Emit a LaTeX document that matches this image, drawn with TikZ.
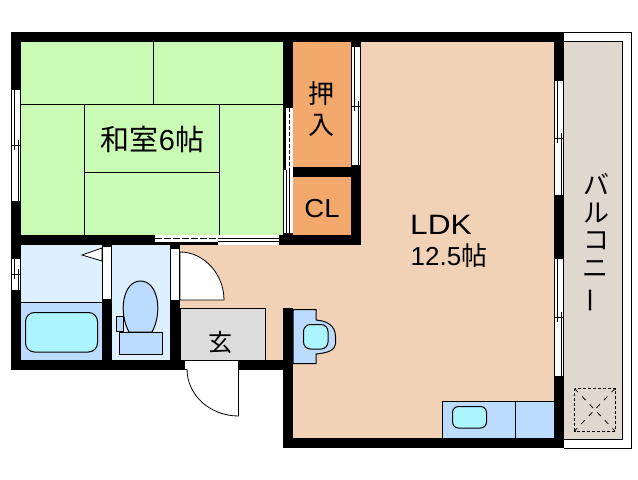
\documentclass[tikz,border=0pt]{standalone}
\usepackage{fontspec}
\setmainfont{Liberation Sans}
\newfontfamily\cjk{Noto Sans CJK JP}
\definecolor{tatami}{HTML}{C9FBB4}
\definecolor{ldk}{HTML}{F2D2B6}
\definecolor{closet}{HTML}{F3A96B}
\definecolor{wet}{HTML}{DDF0FF}
\definecolor{fixture}{HTML}{BBDCFF}
\definecolor{basin}{HTML}{ACF5FF}
\definecolor{balcony}{HTML}{E0D8CF}
\definecolor{entry}{HTML}{DCDCDC}
\tikzset{
  wallfill/.style={fill=black,draw=none},
  thin line/.style={draw=black,line width=1bp},
  hair/.style={draw=black,line width=0.8bp},
  label/.style={inner sep=0pt,outer sep=0pt,text=black,font=\fontsize{26bp}{28bp}\selectfont},
  cjklabel/.style={label,font=\fontsize{26bp}{28bp}\selectfont\cjk},
}
% vertical window: x left, x right, y top, y bottom, y of meeting rail
\newcommand{\winV}[5]{%
  \fill[white] (#1,#3) rectangle (#2,#4);
  \draw[hair] (#1+.5,#3) -- (#1+.5,#4) (#2-.5,#3) -- (#2-.5,#4);
  \draw[hair] (#1+3,#3) -- (#1+3,#5) (#2-3,#5) -- (#2-3,#4);
  \draw[hair] (#1,#5) -- (#2,#5) (#1+3,#5-5) -- (#1+3,#5+5) (#2-3,#5-5) -- (#2-3,#5+5);
}
\begin{document}
\begin{tikzpicture}[x=1bp,y=-1bp]
\useasboundingbox (0,0) rectangle (638,480);
\fill[white] (0,0) rectangle (638,480);
% balcony
\draw[thin line] (564,32.5) -- (631,32.5) -- (631,448.5) -- (564,448.5);
\draw[thin line,fill=balcony] (564,41.5) -- (622.5,41.5) -- (622.5,439) -- (564,439);
\draw[hair,densely dashed] (574.5,388.5) rectangle (615,431);
\draw[hair,dash pattern=on 5bp off 6bp] (574.5,388.5) -- (615,431) (615,388.5) -- (574.5,431);
% rooms
\fill[tatami] (21,42) rectangle (285,236);
\draw[hair] (21,104) -- (284,104) (153,42) -- (153,104) (84.5,104) -- (84.5,235)
  (219.5,104) -- (219.5,235) (84.5,172) -- (219.5,172);
\fill[ldk] (355,42) -- (554,42) -- (554,440) -- (290,440) -- (290,362) -- (175,362) -- (175,240) -- (355,240) -- cycle;
\fill[closet] (293,42) rectangle (351,167);
\fill[closet] (293,177) rectangle (351,235);
% wet rooms
\fill[wet] (21,245) rectangle (170,360);
\fill[fixture] (21,302) rectangle (102,360);
\draw[hair] (21,302) -- (102,302);
\draw[thin line,fill=basin,rounded corners=9bp] (25.5,312.5) rectangle (97.5,352);
\draw[hair,fill=white] (82,255) -- (102,248) -- (102,261) -- cycle;
% toilet
\draw[thin line,fill=fixture] (129,332) .. controls (118,312) and (123,281) .. (140.5,281)
  .. controls (158,281) and (163,312) .. (152,332) -- cycle;
\draw[thin line,fill=fixture] (116.5,316.5) rectangle (123.5,331);
\draw[thin line,fill=fixture] (119.5,332.5) rectangle (162.5,354.5);
% entry
\draw[thin line,fill=entry] (180,308.5) -- (265.5,308.5) -- (265.5,360) -- (180,360) -- cycle;
% walls
\fill[wallfill] (11,32) rectangle (564,42);
\fill[wallfill] (11,32) rectangle (21,370);
\fill[wallfill] (21,235) rectangle (218,245);
\fill[wallfill] (279,235) rectangle (361,245);
\fill[wallfill] (283,42) rectangle (293,235);
\fill[wallfill] (351,42) rectangle (361,245);
\fill[wallfill] (293,167) rectangle (361,177);
\fill[wallfill] (102,245) rectangle (112,360);
\fill[wallfill] (170,242) rectangle (180,360);
\fill[wallfill] (11,360) rectangle (293,370);
\fill[wallfill] (283,308) rectangle (293,448);
\fill[wallfill] (283,438) rectangle (564,448);
\fill[wallfill] (554,32) rectangle (564,448);
% windows
\winV{11}{21}{90}{201}{145}
\winV{11}{21}{259}{290}{274}
\winV{554}{564}{81}{195}{138}
\winV{554}{564}{259}{376}{317}
\winV{351}{361}{47}{165}{106}
% interior doors (white leaves in wall openings)
\fill[white] (103,246) rectangle (111.5,299);
\draw[hair] (102.5,246) -- (111.5,246) (111.5,246) -- (111.5,299);
\fill[white] (171,249) rectangle (179.5,300);
\draw[hair] (170.5,249) -- (170.5,301) (179.5,249) -- (179.5,301);
\fill[white] (185,361) rectangle (238.5,369);
\draw[hair] (185,360.5) -- (238.5,360.5) (238.5,360) -- (238.5,370);
% door swings
\draw[hair,fill=white] (180,252) .. controls (204,252) and (224,274) .. (224,300) -- (180,300) -- cycle;
\draw[hair,fill=white] (238.5,369) -- (238.5,416) .. controls (210,416) and (187,395) .. (187,369);
% sliding doors
\fill[white] (155,235.5) rectangle (279,242);
\fill[white] (218,242) rectangle (279,244.5);
\draw[hair,dash pattern=on 7bp off 2bp] (155,238.5) -- (218,238.5);
\draw[hair] (218,238.5) -- (279,238.5) (218,241.5) -- (279,241.5) (279.5,235) -- (279.5,245);
\fill[white] (286,108) rectangle (293,233);
\fill[white] (284,170) rectangle (286,233);
\draw[hair,dash pattern=on 4bp off 2bp] (289.5,108) -- (289.5,170);
\draw[hair] (289.5,170) -- (289.5,233) (286.5,170) -- (286.5,233) (284,233.5) -- (293,233.5);
% fittings
\draw[thin line,fill=fixture] (293,309.5) -- (316,309.5) -- (316,320) .. controls (328,321) and (335,326) .. (335.5,336)
  -- (335.5,344) .. controls (335,350) and (328,353) .. (316,354) -- (316,363.5) -- (293,363.5) -- cycle;
\draw[thin line,fill=basin,rounded corners=7bp] (303.5,324.5) rectangle (328,349);
\draw[thin line,fill=fixture] (442.5,401.5) rectangle (554,438);
\draw[hair] (515.5,401.5) -- (515.5,438);
\draw[thin line,fill=basin,rounded corners=6bp] (452.5,406.5) rectangle (486.5,428);
\fill[wallfill] (283,438) rectangle (564,448);
\fill[wallfill] (554,376) rectangle (564,448);
% labels
\node[label,anchor=base,font=\fontsize{29bp}{31bp}\selectfont] (room) at (152.5,151) {{\cjk 和室}6{\cjk 帖}};
\node[label,anchor=base,font=\fontsize{28bp}{30bp}\selectfont] (ldktext) at (441,235) {\scalebox{1.13}[1]{LDK}};
\node[label,anchor=base] (ldkarea) at (449,265) {12.5{\cjk 帖}};
\node[cjklabel] (oshi1) at (321,94) {押};
\node[cjklabel] (oshi2) at (321,125) {入};
\node[label,anchor=base] (cl) at (322,217.5) {\scalebox{1.06}[1]{CL}};
\node[cjklabel,font=\fontsize{24bp}{26bp}\selectfont\cjk] (gen) at (220,342) {玄};
\node[cjklabel] (b1) at (596,184) {バ};
\node[cjklabel] (b2) at (596,213) {ル};
\node[cjklabel] (b3) at (596,241) {コ};
\node[cjklabel] (b4) at (595,269) {ニ};
\node[cjklabel,rotate=90] (b5) at (595,300) {ー};
\end{tikzpicture}
\end{document}
